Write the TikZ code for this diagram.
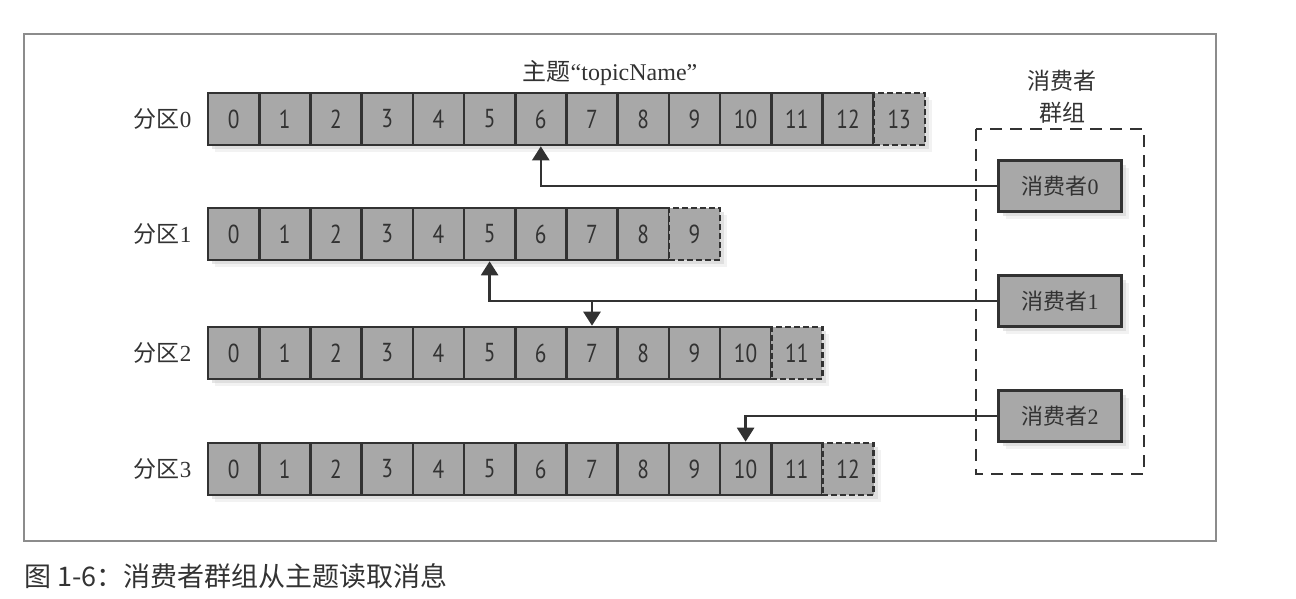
\documentclass[tikz,border=0pt]{standalone}
\usepackage{fontspec}
\setmainfont{Liberation Serif}
\newfontfamily\cjk{Noto Sans CJK SC}
\newfontfamily\celldigits[FakeStretch=0.82]{PT Sans}
\usetikzlibrary{arrows.meta,shadows,positioning}

\definecolor{cellgray}{RGB}{168,168,168}
\definecolor{inkgray}{RGB}{50,50,50}
\definecolor{framegray}{RGB}{140,140,140}

\tikzset{
  cell/.style={draw=inkgray, fill=cellgray, line width=2.6pt,
    minimum width=51.2pt, minimum height=52pt, inner sep=0pt, text=inkgray,
    font=\celldigits\fontsize{26}{26}\selectfont,
    drop shadow={shadow xshift=7pt, shadow yshift=-7pt, fill=gray!20},
    drop shadow={shadow xshift=4pt, shadow yshift=-4pt, fill=gray!40}},
  newcell/.style={cell, dash pattern=on 6pt off 3pt},
  partlabel/.style={anchor=east, text=inkgray, font=\fontsize{23}{23}\selectfont},
  consumer/.style={draw=inkgray, fill=cellgray, line width=2.6pt,
    minimum width=123pt, minimum height=51pt, inner sep=0pt, text=inkgray,
    font=\fontsize{22}{22}\selectfont,
    drop shadow={shadow xshift=7pt, shadow yshift=-7pt, fill=gray!20},
    drop shadow={shadow xshift=4pt, shadow yshift=-4pt, fill=gray!40}},
  groupbox/.style={draw=inkgray, line width=2.8pt, dash pattern=on 12pt off 8pt},
  feed/.style={draw=inkgray, line width=2.6pt, -{Triangle[width=17pt,length=14pt]}},
}

\begin{document}
\begin{tikzpicture}[x=1pt, y=-1pt, node distance=115pt]
\useasboundingbox (0,0) rectangle (1296,598);

\draw[framegray, line width=1.2pt] (24,34) rectangle (1216,541);

\node[text=inkgray, font=\fontsize{24}{24}\selectfont] (topic) at (610,73) {{\cjk 主题}“topicName”};

\foreach \r/\y/\n in {0/119/13,1/234/9,2/353/11,3/469/12} {
  \node[partlabel] (l\r) at (195,\y) {{\cjk 分区}\r};
  \pgfmathtruncatemacro\last{\n-1}
  \foreach \c in {0,...,\last}
    \node[cell] (p\r-\c) at (233.6+51.2*\c,\y) {\c};
  \node[newcell] (p\r-\n) at (233.6+51.2*\n,\y) {\n};
}

\node[text=inkgray, align=center, font=\cjk\fontsize{23}{32}\selectfont] (group) at (1062,97) {消费者\\群组};
\draw[groupbox] (976,129) rectangle (1144,474);

\node[consumer] (c0) at (1060,186) {{\cjk 消费者}0};
\node[consumer, below of=c0] (c1) {{\cjk 消费者}1};
\node[consumer, below of=c1] (c2) {{\cjk 消费者}2};

\draw[feed] (c0.west) -| (p0-6.south);
\draw[feed] (c1.west) -| (p1-5.south);
\draw[feed] (p2-7.north |- c1.west) -- (p2-7.north);
\draw[feed] (c2.west) -| (p3-10.north);

\node[anchor=west, text=black!80, font=\cjk\fontsize{27}{27}\selectfont] (caption) at (21,576) {图 1-6：消费者群组从主题读取消息};

\end{tikzpicture}
\end{document}
